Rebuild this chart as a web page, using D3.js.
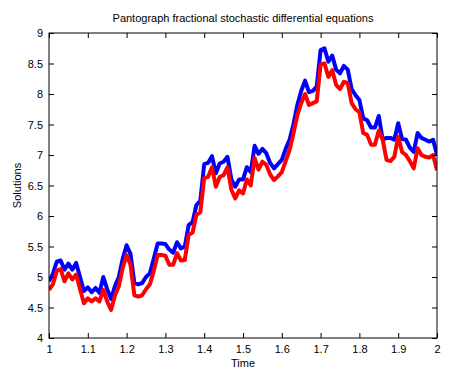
<!DOCTYPE html>
<html>
<head>
<meta charset="utf-8">
<script src="https://cdn.jsdelivr.net/npm/d3@7"></script>
<style>
  body { margin: 0; background: #fff; }
  text { font-family: Arial, "Liberation Sans", sans-serif; fill: #000; }
</style>
</head>
<body>
<div id="chart"></div>
<script>
const WIDTH  = 454;
const HEIGHT = 381;
const MARGIN = { top: 33, right: 17, bottom: 43, left: 49 };
const INNER_WIDTH  = WIDTH - MARGIN.left - MARGIN.right;
const INNER_HEIGHT = HEIGHT - MARGIN.top - MARGIN.bottom;

const title  = "Pantograph fractional stochastic differential equations";
const xLabel = "Time";
const yLabel = "Solutions";

const xTicks = [1, 1.1, 1.2, 1.3, 1.4, 1.5, 1.6, 1.7, 1.8, 1.9, 2];
const yTicks = [4, 4.5, 5, 5.5, 6, 6.5, 7, 7.5, 8, 8.5, 9];

// time grid 1.00 .. 2.00, step 0.01
const time = d3.range(101).map(i => +(1 + i / 100).toFixed(2));

const blue = [
  4.93, 5.05, 5.25, 5.27, 5.12, 5.22, 5.12, 5.23, 5.00, 4.77,
  4.83, 4.75, 4.82, 4.74, 5.00, 4.80, 4.64, 4.85, 5.00, 5.30,
  5.52, 5.38, 4.90, 4.88, 4.90, 5.00, 5.06, 5.30, 5.55, 5.55,
  5.54, 5.45, 5.40, 5.57, 5.47, 5.50, 5.85, 5.90, 6.18, 6.25,
  6.85, 6.87, 6.98, 6.70, 6.86, 6.89, 6.97, 6.60, 6.48, 6.60,
  6.60, 6.80, 6.72, 7.15, 7.02, 7.10, 7.03, 6.87, 6.78, 6.85,
  6.92, 7.10, 7.25, 7.50, 7.82, 8.05, 8.22, 8.03, 8.05, 8.12,
  8.72, 8.75, 8.53, 8.63, 8.40, 8.34, 8.46, 8.40, 8.08, 7.98,
  7.90, 7.60, 7.57, 7.45, 7.45, 7.64, 7.25, 7.28, 7.28, 7.25,
  7.52, 7.26, 7.25, 7.12, 7.05, 7.36, 7.28, 7.25, 7.22, 7.25,
  7.00
];

const red = [
  4.79, 4.88, 5.10, 5.13, 4.93, 5.06, 4.96, 5.04, 4.80, 4.57,
  4.65, 4.60, 4.65, 4.60, 4.79, 4.60, 4.46, 4.70, 4.85, 5.15,
  5.36, 5.20, 4.70, 4.68, 4.70, 4.80, 4.88, 5.10, 5.36, 5.36,
  5.35, 5.20, 5.20, 5.39, 5.27, 5.28, 5.69, 5.73, 6.02, 6.06,
  6.62, 6.64, 6.80, 6.48, 6.64, 6.67, 6.80, 6.43, 6.29, 6.42,
  6.37, 6.60, 6.50, 6.95, 6.76, 6.89, 6.84, 6.68, 6.59, 6.65,
  6.72, 6.90, 7.08, 7.35, 7.65, 7.85, 8.00, 7.82, 7.85, 7.88,
  8.48, 8.50, 8.28, 8.39, 8.15, 8.08, 8.20, 8.18, 7.85, 7.75,
  7.70, 7.36, 7.33, 7.17, 7.17, 7.40, 7.25, 6.92, 6.90, 6.97,
  7.30, 7.05, 7.00, 6.90, 6.78, 7.11, 7.00, 6.97, 6.96, 7.00,
  6.75
];

const svg = d3.select("#chart")
  .append("svg")
  .attr("width", WIDTH)
  .attr("height", HEIGHT);

const chart = svg.append("g")
  .attr("transform", `translate(${MARGIN.left},${MARGIN.top})`);

const x = d3.scaleLinear().domain([1, 2]).range([0, INNER_WIDTH]);
const y = d3.scaleLinear().domain([4, 9]).range([INNER_HEIGHT, 0]);

const line = d3.line()
  .x((d, i) => x(time[i]))
  .y(d => y(d));

// clip to the axes box
chart.append("clipPath").attr("id", "clip")
  .append("rect").attr("width", INNER_WIDTH).attr("height", INNER_HEIGHT);

const plot = chart.append("g").attr("clip-path", "url(#clip)");

plot.append("path")
  .datum(blue)
  .attr("fill", "none")
  .attr("stroke", "#0000ff")
  .attr("stroke-width", 4)
  .attr("stroke-linejoin", "round")
  .attr("d", line);

plot.append("path")
  .datum(red)
  .attr("fill", "none")
  .attr("stroke", "#ff0000")
  .attr("stroke-width", 4)
  .attr("stroke-linejoin", "round")
  .attr("d", line);

// axes, ticks pointing inward like matlab
const fmt = d => String(d);

const axisStyle = g => {
  g.select(".domain").remove();
  g.selectAll(".tick line").attr("stroke", "#000");
  g.selectAll(".tick text").attr("font-size", 11);
};

chart.append("g")
  .attr("transform", `translate(0,${INNER_HEIGHT})`)
  .call(d3.axisBottom(x).tickValues(xTicks).tickFormat(fmt).tickSizeInner(-5).tickSizeOuter(0).tickPadding(7))
  .call(axisStyle);

chart.append("g")
  .call(d3.axisTop(x).tickValues(xTicks).tickFormat("").tickSizeInner(-5).tickSizeOuter(0))
  .call(axisStyle);

chart.append("g")
  .call(d3.axisLeft(y).tickValues(yTicks).tickFormat(fmt).tickSizeInner(-5).tickSizeOuter(0).tickPadding(6))
  .call(axisStyle);

chart.append("g")
  .attr("transform", `translate(${INNER_WIDTH},0)`)
  .call(d3.axisRight(y).tickValues(yTicks).tickFormat("").tickSizeInner(-5).tickSizeOuter(0))
  .call(axisStyle);

chart.append("rect")
  .attr("width", INNER_WIDTH)
  .attr("height", INNER_HEIGHT)
  .attr("fill", "none")
  .attr("stroke", "#000")
  .attr("stroke-width", 1);

// labels
svg.append("text")
  .attr("x", MARGIN.left + INNER_WIDTH / 2)
  .attr("y", 22)
  .attr("text-anchor", "middle")
  .attr("font-size", 11)
  .text(title);

svg.append("text")
  .attr("x", MARGIN.left + INNER_WIDTH / 2)
  .attr("y", 367)
  .attr("text-anchor", "middle")
  .attr("font-size", 11)
  .text(xLabel);

svg.append("text")
  .attr("transform", `translate(21,${MARGIN.top + INNER_HEIGHT / 2}) rotate(-90)`)
  .attr("text-anchor", "middle")
  .attr("font-size", 11)
  .text(yLabel);
</script>
</body>
</html>
